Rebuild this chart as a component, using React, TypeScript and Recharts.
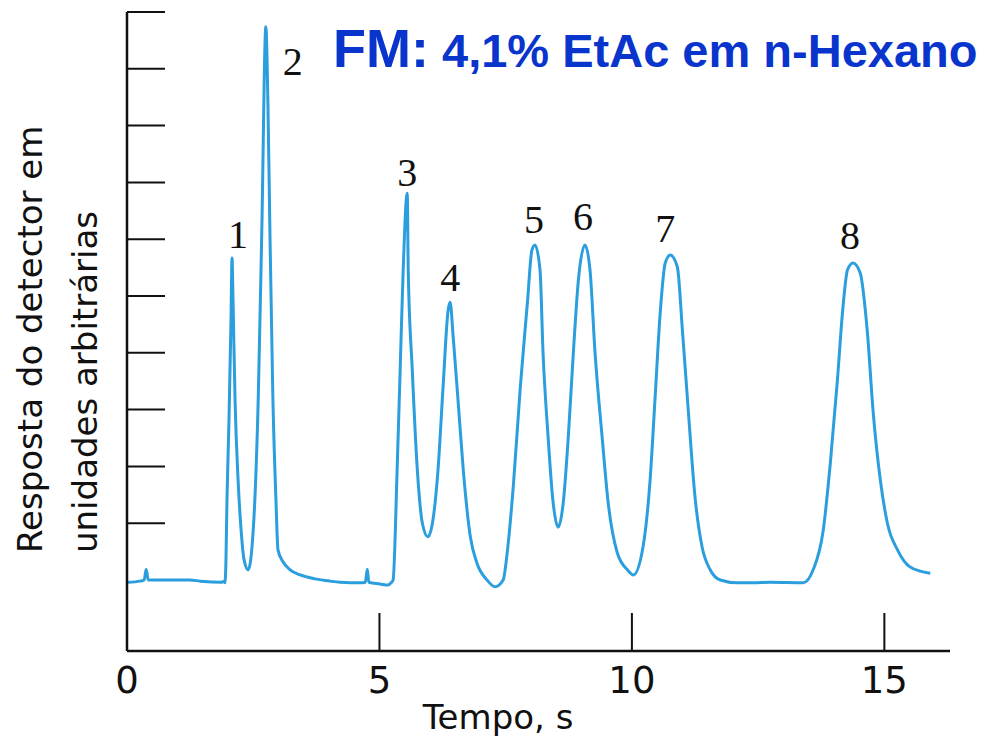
import React from 'react';
import { ComposedChart, Line, Scatter, XAxis, YAxis } from 'recharts';

// retention time (s) and detector response (arbitrary units)
const times = [
  0.02, 0.26, 0.34, 0.38, 0.42, 0.65, 1.25, 1.45, 1.88, 1.92,
  1.94, 1.96, 1.98, 2.02, 2.06, 2.08, 2.10, 2.14, 2.20, 2.26, 2.32, 2.40,
  2.50, 2.60, 2.67, 2.75, 2.79, 2.83, 2.89, 2.95, 2.99, 3.09, 3.23, 3.43, 3.73, 4.02, 4.22,
  4.62, 4.72, 4.76, 4.79, 5.01, 5.17, 5.23,
  5.27, 5.35, 5.41, 5.47, 5.55, 5.57, 5.65, 5.75, 5.85, 5.96,
  6.06, 6.16, 6.26, 6.36, 6.40, 6.46, 6.56, 6.66, 6.80, 6.93, 7.13, 7.29, 7.45,
  7.53, 7.65, 7.79, 7.93, 8.02, 8.08, 8.18, 8.24, 8.34, 8.44, 8.54,
  8.64, 8.74, 8.84, 8.94, 9.07, 9.17, 9.27, 9.41, 9.53, 9.71, 9.91, 10.03,
  10.22, 10.36, 10.46, 10.56, 10.66, 10.76, 10.90, 11.00, 11.12, 11.25, 11.39, 11.55, 11.75,
  12.09, 12.40, 12.74, 13.39,
  13.59, 13.79, 13.93, 14.07, 14.17, 14.27, 14.38, 14.52, 14.66, 14.78, 14.92, 15.06, 15.26, 15.51, 15.91,
];

const response = [
  1.21, 1.23, 1.25, 1.44, 1.25, 1.25, 1.25, 1.23, 1.21, 1.23,
  1.20, 1.60, 2.66, 4.07, 5.83, 6.92, 6.18, 4.42, 3.01, 2.13, 1.60, 1.43,
  2.13, 4.47, 7.41, 10.99, 9.70, 7.41, 4.42, 2.66, 1.78, 1.57, 1.43, 1.34, 1.27, 1.23, 1.21,
  1.20, 1.21, 1.44, 1.21, 1.18, 1.16, 1.20,
  1.25, 3.19, 4.95, 6.71, 8.06, 6.71, 4.95, 3.19, 2.25, 2.01,
  2.31, 3.19, 4.65, 6.00, 6.14, 5.53, 4.37, 3.19, 2.01, 1.55, 1.25, 1.13, 1.25,
  1.73, 2.89, 4.65, 6.13, 7.06, 7.15, 6.71, 5.25, 3.77, 2.61, 2.18,
  2.61, 3.77, 5.25, 6.53, 7.15, 6.71, 5.25, 3.77, 2.61, 1.73, 1.43, 1.34,
  1.83, 3.01, 4.47, 5.95, 6.83, 6.97, 6.76, 5.65, 4.19, 2.71, 1.83, 1.43, 1.25,
  1.20, 1.20, 1.21, 1.20,
  1.43, 2.13, 3.31, 4.77, 5.95, 6.71, 6.83, 6.66, 5.65, 4.19, 3.01, 2.25, 1.78, 1.48, 1.37,
];

// numbered peaks
const peakNames = ['1', '2', '3', '4', '5', '6', '7', '8'];
const peakTimes = [2.08, 2.75, 5.55, 6.40, 8.08, 9.07, 10.76, 14.38];
const peakHeights = [6.92, 10.99, 8.06, 6.14, 7.15, 7.15, 6.97, 6.83];

const xTicks = [0, 5, 10, 15];
const yTicks = [2.25, 3.25, 4.25, 5.25, 6.25, 7.25, 8.25, 9.25, 10.25, 11.25];

const data = times.map((t, i) => ({ t, v: response[i] }));
const peaks = peakTimes.map((t, i) => ({ t, v: peakHeights[i], name: peakNames[i] }));

// label placement relative to the peak apex (px)
const labelOffsets: Record<string, [number, number]> = {
  '1': [6, -10],
  '2': [27, 48],
  '3': [0, -7],
  '4': [0, -11],
  '5': [-1, -12],
  '6': [-2, -15],
  '7': [-5, -13],
  '8': [-3, -14],
};

const LINE = '#2B9EDD';
const AXIS = '#111';
const HAND = '"DejaVu Sans", Verdana, sans-serif';

const XTick = (props: any) => {
  const { x, y, payload } = props;
  return (
    <g>
      {payload.value !== 0 && <line x1={x} y1={y} x2={x} y2={y - 38} stroke={AXIS} strokeWidth={2} />}
      <text x={x} y={y + 42} textAnchor="middle" fontFamily={HAND} fontSize={37} fill="#111">
        {payload.value}
      </text>
    </g>
  );
};

const YTick = (props: any) => {
  const { x, y } = props;
  return <line x1={x} y1={y} x2={x + 38} y2={y} stroke={AXIS} strokeWidth={2} />;
};

const PeakLabel = (props: any) => {
  const { cx, cy, payload } = props;
  const [dx, dy] = labelOffsets[payload.name] || [0, -12];
  return (
    <text x={cx + dx} y={cy + dy} textAnchor="middle" fontFamily='"Liberation Serif", "Times New Roman", serif' fontSize={40} fill="#111">
      {payload.name}
    </text>
  );
};

export default function App() {
  return (
    <div style={{ position: 'absolute', left: 0, top: 0, width: 982, height: 745, background: '#fff' }}>
      <ComposedChart width={982} height={745} data={data} margin={{ top: 12, right: 32, bottom: 93, left: 126 }}>
        <XAxis
          dataKey="t"
          type="number"
          domain={[0, 16.3]}
          ticks={xTicks}
          height={1}
          tickSize={0}
          tickMargin={0}
          tickLine={false}
          tick={<XTick />}
          axisLine={{ stroke: AXIS, strokeWidth: 2.5 }}
          interval={0}
        />
        <YAxis
          type="number"
          domain={[0, 11.25]}
          ticks={yTicks}
          width={1}
          tickSize={0}
          tickMargin={0}
          tickLine={false}
          tick={<YTick />}
          axisLine={{ stroke: AXIS, strokeWidth: 2.5 }}
          interval={0}
        />
        <Line
          type="monotone"
          dataKey="v"
          stroke={LINE}
          strokeWidth={3}
          dot={false}
          isAnimationActive={false}
        />
        <Scatter data={peaks} dataKey="v" shape={<PeakLabel />} isAnimationActive={false} />
      </ComposedChart>
      <svg width={982} height={745} style={{ position: 'absolute', left: 0, top: 0, pointerEvents: 'none' }}>
        <text x={333} y={67} fontFamily='"Liberation Sans", Arial, sans-serif' fontWeight="bold" fill="#0A35CC">
          <tspan fontSize={54}>FM:</tspan>
          <tspan fontSize={47}> 4,1% EtAc em n-Hexano</tspan>
        </text>
        <text x={498} y={729} textAnchor="middle" fontFamily={HAND} fontSize={34} fill="#111">
          Tempo, s
        </text>
        <text transform="translate(42,553) rotate(-90)" fontFamily={HAND} fontSize={34} fill="#111">
          Resposta do detector em
        </text>
        <text transform="translate(97,553) rotate(-90)" fontFamily={HAND} fontSize={34} fill="#111">
          unidades arbitrárias
        </text>
      </svg>
    </div>
  );
}
